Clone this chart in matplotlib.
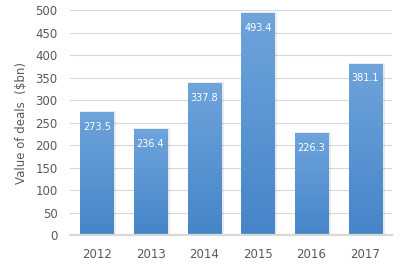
import matplotlib.pyplot as plt
import numpy as np
from matplotlib.colors import LinearSegmentedColormap

years = ["2012", "2013", "2014", "2015", "2016", "2017"]
deal_values = [273.5, 236.4, 337.8, 493.4, 226.3, 381.1]
y_ticks = [0, 50, 100, 150, 200, 250, 300, 350, 400, 450, 500]

text_color = "#595959"
grid_color = "#d9d9d9"
bar_cmap = LinearSegmentedColormap.from_list("bar", ["#4585c8", "#6fa4dc"])

fig = plt.figure(figsize=(4.05, 2.72), dpi=100)
ax = fig.add_axes([0.173, 0.136, 0.795, 0.827])

x = np.arange(len(years))
width = 0.62

# soft drop shadow behind each bar
for xi, v in zip(x, deal_values):
    ax.bar(xi + 0.03, v + 2, width=width + 0.04, color="#000000", alpha=0.08,
           zorder=2, linewidth=0)

bars = ax.bar(x, deal_values, width=width, color="none", zorder=3, linewidth=0)
gradient = np.linspace(0, 1, 256).reshape(-1, 1)
for b, v in zip(bars, deal_values):
    x0 = b.get_x()
    im = ax.imshow(gradient, cmap=bar_cmap, aspect="auto", origin="lower",
                   extent=(x0, x0 + b.get_width(), 0, v), zorder=3)
    im.set_clip_path(b)
    ax.text(x0 + b.get_width() / 2, v - 33, f"{v:.1f}", ha="center", va="center",
            color="white", fontsize=7, zorder=4)

ax.set_xlim(-0.5, len(years) - 0.5)
ax.set_ylim(0, 500)
ax.set_xticks(x)
ax.set_xticklabels(years)
ax.set_yticks(y_ticks)

ax.grid(axis="y", color=grid_color, linewidth=0.8, zorder=0)
ax.set_axisbelow(True)
for side in ["top", "right", "left"]:
    ax.spines[side].set_visible(False)
ax.spines["bottom"].set_color(grid_color)
ax.spines["bottom"].set_linewidth(1.6)
ax.spines["bottom"].set_zorder(5)

ax.tick_params(axis="both", length=0, colors=text_color, labelsize=8.5)
ax.tick_params(axis="x", pad=9)
ax.tick_params(axis="y", pad=9)
ax.set_ylabel("Value of deals  ($bn)", color=text_color, fontsize=8.5, labelpad=5)

fig.savefig("out.png", dpi=100)
